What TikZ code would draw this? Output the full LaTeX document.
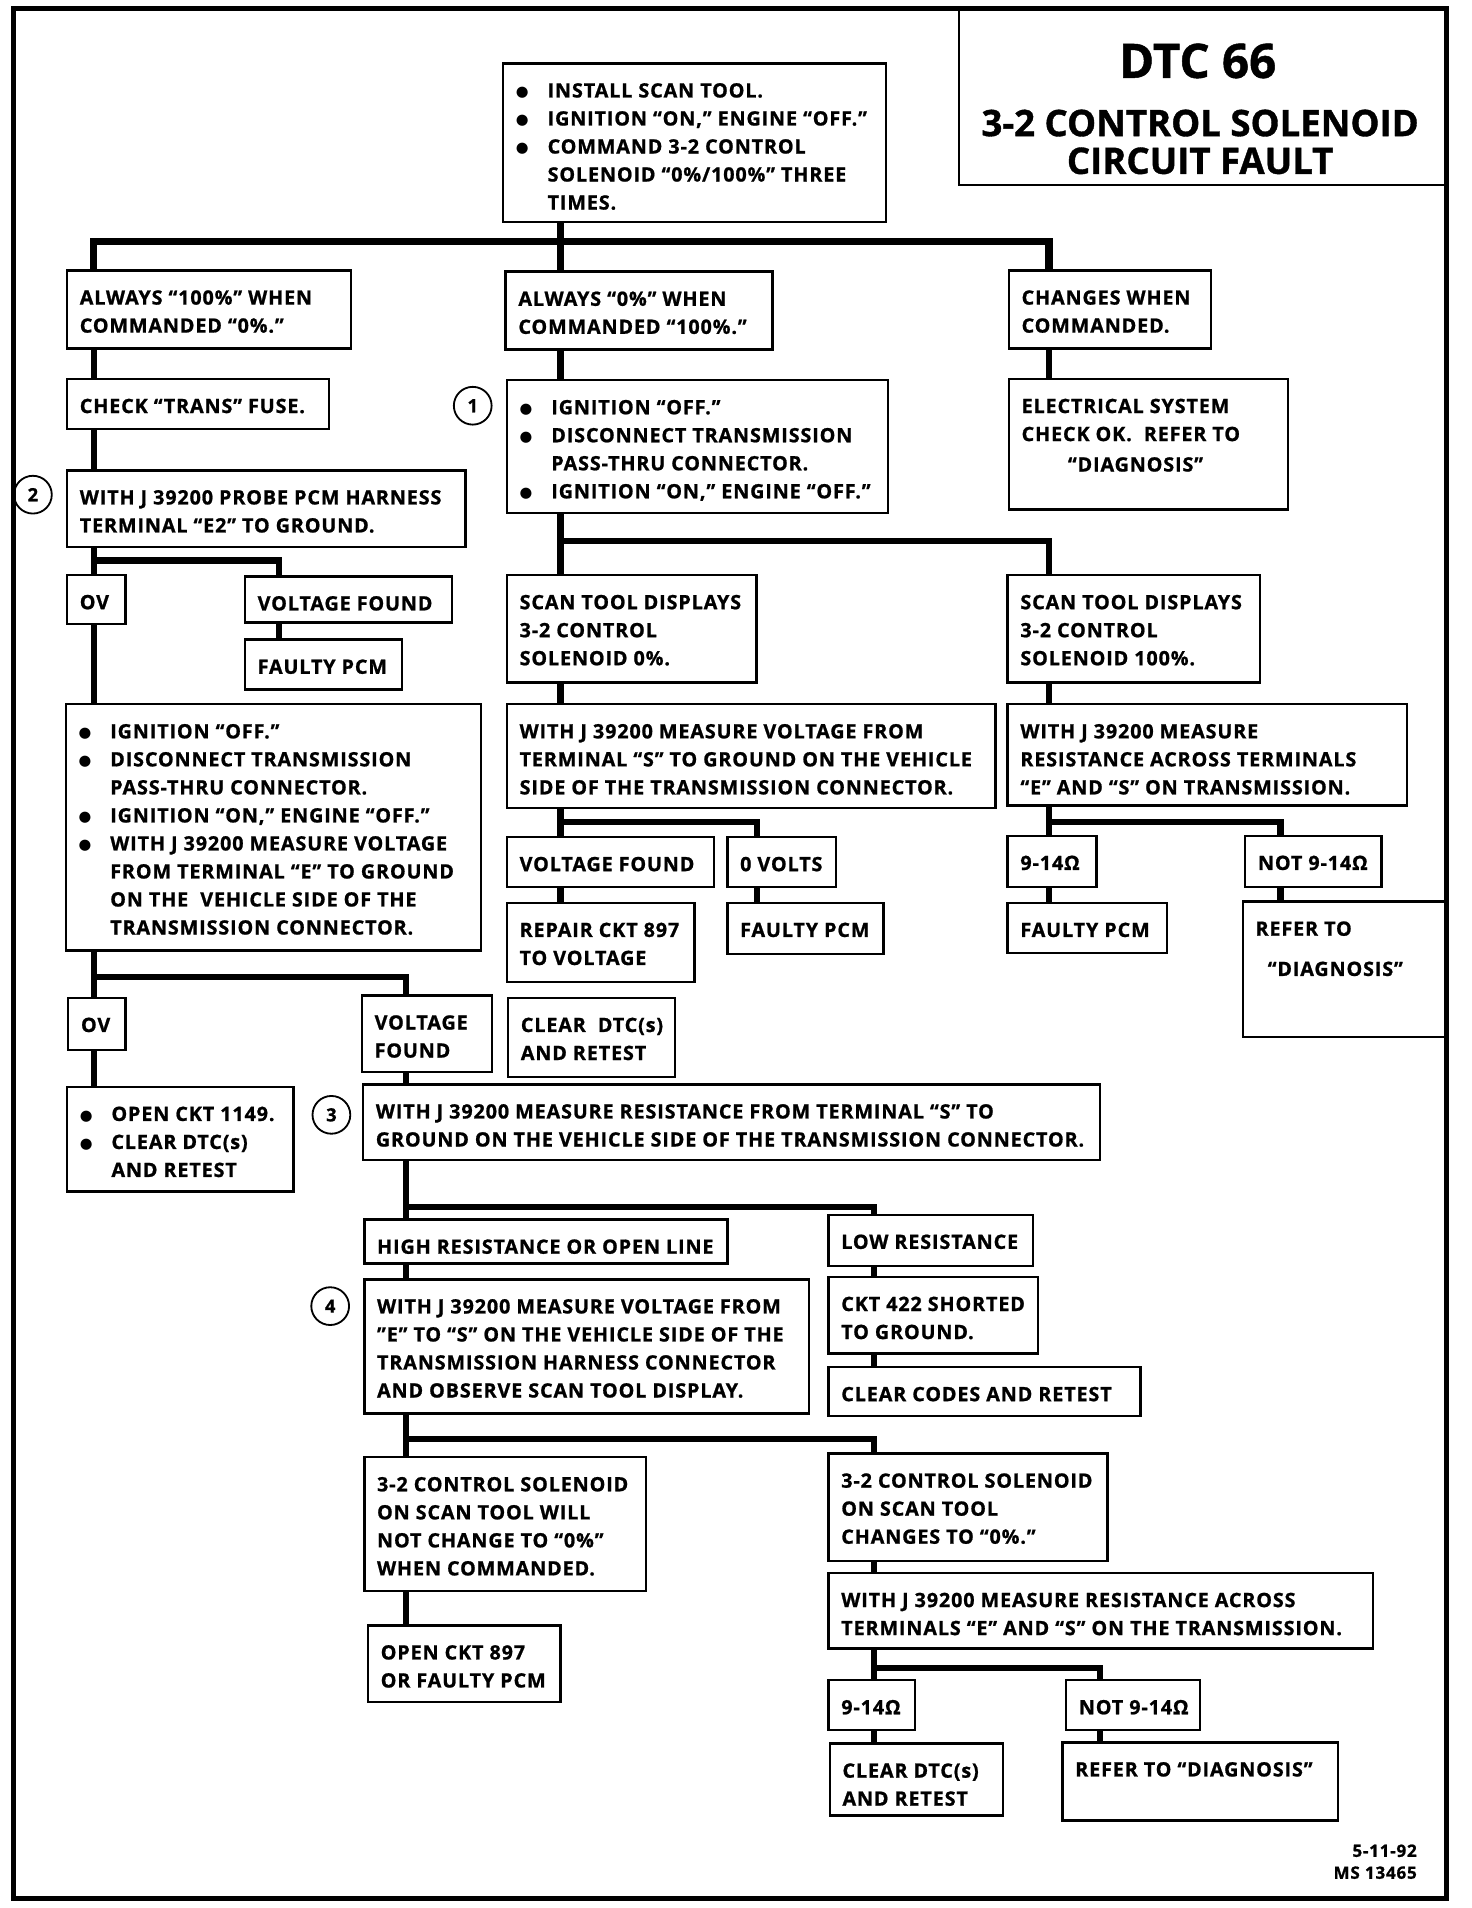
\documentclass[tikz,border=0pt]{standalone}
\usepackage{fontspec}
\setmainfont{Open Sans}[LetterSpace=4.5, BoldFeatures={FakeBold=1}]
\newfontfamily\titlefont{Open Sans}[BoldFeatures={FakeBold=1}]
\newfontfamily\dejavu{DejaVu Sans}
\usepackage{graphicx}
\usetikzlibrary{calc}
\newcommand\bul{\makebox[26pt][l]{\raisebox{0.5pt}{\dejavu\fontsize{12}{12}\selectfont ●}}}
\newcommand\ind{\hspace*{26pt}}
\tikzset{
  bxs/.style={draw, line width=2pt, inner sep=0pt, outer sep=0pt},
  tx/.style={inner sep=0pt, outer sep=0pt, anchor=base west, font=\fontsize{16.2}{23}\selectfont\bfseries},
  conn/.style={line width=5pt, line join=miter},
  bus/.style={line width=6pt, line join=miter},
  circ/.style={draw, circle, line width=1.5pt, minimum size=31pt, inner sep=0pt, font=\fontsize{15}{15}\selectfont\bfseries},
  ttl/.style={inner sep=0pt, font=\titlefont\bfseries\fontsize{30}{30}\selectfont},
  foot/.style={inner sep=0pt, anchor=base east, font=\fontsize{14}{14}\selectfont\bfseries}
}
% [dx] name x1 y1 x2 y2 content
\newcommand\bx[7][10.5]{%
  \node[bxs, anchor=north west, minimum width={(#5-#3)*1pt}, minimum height={(#6-#4)*1pt}] (#2) at (#3,-#4) {};
  \node[tx] (#2t) at ($(#2.north west)+(#1,-28)$) {\begin{tabular}[t]{@{}l@{}}#7\end{tabular}};}
\begin{document}
\begin{tikzpicture}[x=1pt,y=1pt]
\useasboundingbox (0,0) rectangle (1208,-1566);
\draw[line width=4pt] (11,-7) rectangle (1187,-1558);
% title
\node[bxs, anchor=north west, minimum width=400pt, minimum height=144pt] (title) at (787,-8) {};
\node[ttl, font=\titlefont\bfseries\fontsize{39}{39}\selectfont] (t1) at (983,-50) {DTC 66};
\node[ttl] (t2) at (985,-101) {3-2 CONTROL SOLENOID};
\node[ttl] (t3) at (985,-132) {CIRCUIT FAULT};
% boxes
\bx{A}{413}{52}{727}{182}{\bul INSTALL SCAN TOOL.\\ \bul IGNITION “ON,” ENGINE “OFF.”\\ \bul COMMAND 3-2 CONTROL\\ \ind SOLENOID “0\%/100\%” THREE\\ \ind TIMES.}
\bx{B1}{55}{222}{288}{286}{ALWAYS “100\%” WHEN\\ COMMANDED “0\%.”}
\bx{B2}{415}{223}{634}{287}{ALWAYS “0\%” WHEN\\ COMMANDED “100\%.”}
\bx{B3}{828}{222}{994}{286}{CHANGES WHEN\\ COMMANDED.}
\bx{C1}{55}{311}{270}{352}{CHECK “TRANS” FUSE.}
\bx{C2}{416}{312}{729}{421}{\bul IGNITION “OFF.”\\ \bul DISCONNECT TRANSMISSION\\ \ind PASS-THRU CONNECTOR.\\ \bul IGNITION “ON,” ENGINE “OFF.”}
\bx{C3}{828}{311}{1057}{418}{ELECTRICAL SYSTEM\\ CHECK OK.\ \ REFER TO\\[2pt] \hspace*{38pt}“DIAGNOSIS”}
\bx{D1}{55}{386}{382}{449}{WITH J 39200 PROBE PCM HARNESS\\ TERMINAL “E2” TO GROUND.}
\bx{OV1}{55}{472}{103}{512}{OV}
\bx{VF1}{201}{473}{371}{511}{VOLTAGE FOUND}
\bx{FP1}{201}{525}{330}{566}{FAULTY PCM}
\bx{H1}{416}{472}{621}{560}{SCAN TOOL DISPLAYS\\ 3-2 CONTROL\\ SOLENOID 0\%.}
\bx{H2}{827}{472}{1034}{560}{SCAN TOOL DISPLAYS\\ 3-2 CONTROL\\ SOLENOID 100\%.}
\bx{E1}{54}{578}{395}{780}{\bul IGNITION “OFF.”\\ \bul DISCONNECT TRANSMISSION\\ \ind PASS-THRU CONNECTOR.\\ \bul IGNITION “ON,” ENGINE “OFF.”\\ \bul WITH J 39200 MEASURE VOLTAGE\\ \ind FROM TERMINAL “E” TO GROUND\\ \ind ON THE\ \ VEHICLE SIDE OF THE\\ \ind TRANSMISSION CONNECTOR.}
\bx{I1}{416}{578}{817}{663}{WITH J 39200 MEASURE VOLTAGE FROM\\ TERMINAL “S” TO GROUND ON THE VEHICLE\\ SIDE OF THE TRANSMISSION CONNECTOR.}
\bx{I2}{827}{578}{1155}{661}{WITH J 39200 MEASURE\\ RESISTANCE ACROSS TERMINALS\\ “E” AND “S” ON TRANSMISSION.}
\bx{VF3}{416}{687}{586}{728}{VOLTAGE FOUND}
\bx{V0}{597}{687}{686}{728}{0 VOLTS}
\bx{O1}{827}{686}{900}{728}{9-14Ω}
\bx{N1}{1022}{686}{1134}{728}{NOT 9-14Ω}
\bx{R1}{416}{741}{570}{806}{REPAIR CKT 897\\ TO VOLTAGE}
\bx{FP2}{597}{741}{725}{783}{FAULTY PCM}
\bx{FP3}{827}{741}{958}{782}{FAULTY PCM}
\bx{RF1}{1020}{740}{1187}{851}{REFER TO\\[10pt] \hspace*{10pt}“DIAGNOSIS”}
\bx{OV2}{56}{819}{103}{862}{OV}
\bx{VF2}{297}{817}{404}{880}{VOLTAGE\\ FOUND}
\bx{CD1}{417}{819}{554}{884}{CLEAR\ \ DTC(s)\\ AND RETEST}
\bx{F1}{55}{892}{241}{978}{\bul OPEN CKT 1149.\\ \bul CLEAR DTC(s)\\ \ind AND RETEST}
\bx{G}{298}{890}{903}{952}{WITH J 39200 MEASURE RESISTANCE FROM TERMINAL “S” TO\\ GROUND ON THE VEHICLE SIDE OF THE TRANSMISSION CONNECTOR.}
\bx{HI}{299}{1001}{597}{1037}{HIGH RESISTANCE OR OPEN LINE}
\bx{LO}{680}{997}{848}{1039}{LOW RESISTANCE}
\bx{J}{299}{1050}{664}{1160}{WITH J 39200 MEASURE VOLTAGE FROM\\ ”E” TO “S” ON THE VEHICLE SIDE OF THE\\ TRANSMISSION HARNESS CONNECTOR\\ AND OBSERVE SCAN TOOL DISPLAY.}
\bx{CK}{680}{1048}{852}{1111}{CKT 422 SHORTED\\ TO GROUND.}
\bx{CC}{680}{1122}{936}{1162}{CLEAR CODES AND RETEST}
\bx{K1}{299}{1196}{530}{1306}{3-2 CONTROL SOLENOID\\ ON SCAN TOOL WILL\\ NOT CHANGE TO “0\%”\\ WHEN COMMANDED.}
\bx{K2}{680}{1193}{909}{1281}{3-2 CONTROL SOLENOID\\ ON SCAN TOOL\\ CHANGES TO “0\%.”}
\bx{L2}{680}{1291}{1127}{1353}{WITH J 39200 MEASURE RESISTANCE ACROSS\\ TERMINALS “E” AND “S” ON THE TRANSMISSION.}
\bx{L1}{302}{1334}{460}{1397}{OPEN CKT 897\\ OR FAULTY PCM}
\bx{O2}{680}{1379}{751}{1420}{9-14Ω}
\bx{N2}{875}{1379}{985}{1420}{NOT 9-14Ω}
\bx{CD2}{681}{1431}{823}{1490}{CLEAR DTC(s)\\ AND RETEST}
\bx{RF2}{872}{1430}{1098}{1494}{REFER TO “DIAGNOSIS”}
% circles
\node[circ] (c1) at (388,-333) {1};
\node[circ] (c2) at (27,-406) {2};
\node[circ] (c3) at (272,-915) {3};
\node[circ] (c4) at (271,-1072) {4};
% footer
\node[foot] (f1) at (1163,-1524) {5-11-92};
\node[foot] (f2) at (1163,-1542) {MS 13465};
% connector coordinates
\coordinate (xl) at (77,0);
\coordinate (xa) at (229,0);
\coordinate (xm) at (460,0);
\coordinate (xv) at (621,0);
\coordinate (xr) at (861,0);
\coordinate (xn1) at (1051,0);
\coordinate (xg) at (333,0);
\coordinate (xlo) at (717,0);
\coordinate (xn2) at (903,0);
\coordinate (b1) at (0,-198);
\coordinate (b2) at (0,-460);
\coordinate (b3) at (0,-802);
\coordinate (b4) at (0,-991);
\coordinate (b5) at (0,-1181);
\coordinate (b6) at (0,-1369);
\coordinate (b7) at (0,-444);
\coordinate (b8) at (0,-675);
% main tree
\draw[conn] (A.south -| xm) -- (B2.north -| xm);
\draw[bus] (B1.north -| xl) -- (b1 -| xl) -- (b1 -| xr) -- (B3.north -| xr);
% left
\draw[conn] (B1.south -| xl) -- (C1.north -| xl);
\draw[conn] (C1.south -| xl) -- (D1.north -| xl);
\draw[conn] (D1.south -| xl) -- (OV1.north -| xl);
\draw[conn] (b2 -| xl) -- (b2 -| xa) -- (VF1.north -| xa);
\draw[conn] (VF1.south -| xa) -- (FP1.north -| xa);
\draw[conn] (OV1.south -| xl) -- (E1.north -| xl);
\draw[conn] (E1.south -| xl) -- (OV2.north -| xl);
\draw[conn] (b3 -| xl) -- (b3 -| xg) -- (VF2.north -| xg);
\draw[conn] (OV2.south -| xl) -- (F1.north -| xl);
\draw[conn] (VF2.south -| xg) -- (G.north -| xg);
\draw[conn] (G.south -| xg) -- (HI.north -| xg);
\draw[conn] (b4 -| xg) -- (b4 -| xlo) -- (LO.north -| xlo);
\draw[conn] (HI.south -| xg) -- (J.north -| xg);
\draw[conn] (LO.south -| xlo) -- (CK.north -| xlo);
\draw[conn] (CK.south -| xlo) -- (CC.north -| xlo);
\draw[conn] (J.south -| xg) -- (K1.north -| xg);
\draw[conn] (b5 -| xg) -- (b5 -| xlo) -- (K2.north -| xlo);
\draw[conn] (K1.south -| xg) -- (L1.north -| xg);
\draw[conn] (K2.south -| xlo) -- (L2.north -| xlo);
\draw[conn] (L2.south -| xlo) -- (O2.north -| xlo);
\draw[conn] (b6 -| xlo) -- (b6 -| xn2) -- (N2.north -| xn2);
\draw[conn] (O2.south -| xlo) -- (CD2.north -| xlo);
\draw[conn] (N2.south -| xn2) -- (RF2.north -| xn2);
% middle
\draw[conn] (B2.south -| xm) -- (C2.north -| xm);
\draw[conn] (C2.south -| xm) -- (H1.north -| xm);
\draw[conn] (b7 -| xm) -- (b7 -| xr) -- (H2.north -| xr);
\draw[conn] (H1.south -| xm) -- (I1.north -| xm);
\draw[conn] (H2.south -| xr) -- (I2.north -| xr);
\draw[conn] (I1.south -| xm) -- (VF3.north -| xm);
\draw[conn] (b8 -| xm) -- (b8 -| xv) -- (V0.north -| xv);
\draw[conn] (VF3.south -| xm) -- (R1.north -| xm);
\draw[conn] (V0.south -| xv) -- (FP2.north -| xv);
\draw[conn] (I2.south -| xr) -- (O1.north -| xr);
\draw[conn] (b8 -| xr) -- (b8 -| xn1) -- (N1.north -| xn1);
\draw[conn] (O1.south -| xr) -- (FP3.north -| xr);
\draw[conn] (N1.south -| xn1) -- (RF1.north -| xn1);
% right
\draw[conn] (B3.south -| xr) -- (C3.north -| xr);
\end{tikzpicture}
\end{document}
